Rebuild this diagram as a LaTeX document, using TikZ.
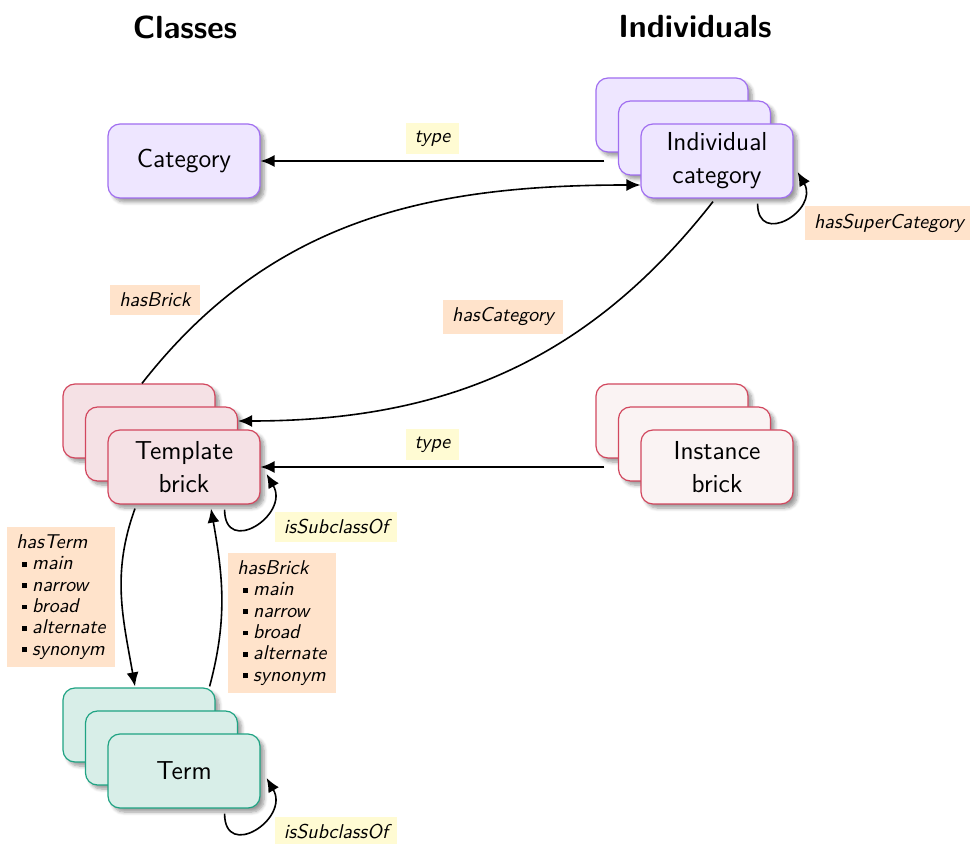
\documentclass[tikz,border=0pt]{standalone}
\usepackage{fontspec}
\renewcommand{\familydefault}{\sfdefault}
\usetikzlibrary{arrows.meta, calc, shadows.blur}

\definecolor{catfill}{HTML}{EEE6FF}
\definecolor{catdraw}{HTML}{A06EF0}
\definecolor{tmplfill}{HTML}{F5E1E5}
\definecolor{brickdraw}{HTML}{D2475E}
\definecolor{instfill}{HTML}{FAF3F3}
\definecolor{termfill}{HTML}{D8EEE8}
\definecolor{termdraw}{HTML}{1FA383}
\definecolor{typefill}{HTML}{FFFBD3}
\definecolor{relfill}{HTML}{FFE3CB}

\newcommand{\bulletsq}{\hspace*{3pt}\rule[.35ex]{2.4pt}{2.4pt}\hspace{2.5pt}}

\begin{document}
\begin{tikzpicture}[x=0.5pt, y=-0.5pt,
    clsbox/.style={draw, semithick, rounded corners=6pt, minimum width=76pt, minimum height=37pt,
        align=center, font=\fontsize{13}{16.5}\selectfont,
        blur shadow={shadow blur steps=6, shadow xshift=2pt, shadow yshift=-2pt}},
    catbox/.style={clsbox, fill=catfill, draw=catdraw},
    tmplbox/.style={clsbox, fill=tmplfill, draw=brickdraw},
    instbox/.style={clsbox, fill=instfill, draw=brickdraw},
    termbox/.style={clsbox, fill=termfill, draw=termdraw},
    lbl/.style={font=\fontsize{10}{10.7}\selectfont\itshape, inner xsep=4.5pt, inner ysep=4pt},
    typelbl/.style={lbl, fill=typefill},
    rellbl/.style={lbl, fill=relfill},
    arr/.style={thick, -{Latex[length=7pt,width=6pt]}},
    headline/.style={font=\fontsize{16}{19}\selectfont\bfseries}]

    \useasboundingbox (0,0) rectangle (970,844);

    \node[headline] (classes) at (185,27) {Classes};
    \node[headline] (indiv) at (695,27) {Individuals};

    % stacked copies behind the front boxes
    \foreach \nm/\st/\px/\py in {ind/catbox/717/161, tmpl/tmplbox/184/467, inst/instbox/717/467, term/termbox/184/771} {
        \node[\st] (\nm3) at (\px-45,\py-46) {};
        \node[\st] (\nm2) at (\px-22.5,\py-23) {};
    }

    \node[catbox] (cat) at (184,161) {Category};
    \node[catbox] (ind) at (717,161) {Individual\\category};
    \node[tmplbox] (tmpl) at (184,467) {Template\\brick};
    \node[instbox] (inst) at (717,467) {Instance\\brick};
    \node[termbox] (term) at (184,771) {Term};

    \draw[arr] ($(ind3.west |- ind.west)+(9,0)$) -- node[typelbl, above=3pt] (type1) {type} (cat);
    \draw[arr] ($(inst3.west |- inst.west)+(9,0)$) -- node[typelbl, above=3pt] (type2) {type} (tmpl);

    \draw[arr] ($(tmpl3.north)+(3,0)$) to[out=52, in=180] ($(ind.west)+(0,24)$);
    \node[rellbl] (hbrick) at (155,300) {hasBrick};

    \draw[arr] ($(ind.south)+(-4,3)$) to[out=-128, in=0] (tmpl2.east |- tmpl3.east);
    \node[rellbl] (hcat) at (503,317) {hasCategory};

    \draw[arr] ($(ind.south east)+(-36,5)$) to[out=-90, in=-60, looseness=2.2] ($(ind.east)+(4,11)$);
    \node[rellbl] (hsup) at (889,223) {hasSuperCategory};

    \draw[arr] ($(tmpl.south east)+(-36,5)$) to[out=-90, in=-60, looseness=2.2] ($(tmpl.east)+(6,7)$);
    \node[typelbl] (sub1) at (336,527) {isSubclassOf};

    \draw[arr] ($(term.south east)+(-36,5)$) to[out=-90, in=-60, looseness=2.2] ($(term.east)+(6,7)$);
    \node[typelbl] (sub2) at (336,832) {isSubclassOf};

    \draw[arr] ($(tmpl.south)+(-49,4)$) to[out=-110, in=100] ($(term3.north)+(-4,-1)$);
    \node[rellbl, align=left] (hterm) at (61,597) {hasTerm\\ \bulletsq main\\ \bulletsq narrow\\ \bulletsq broad\\ \bulletsq alternate\\ \bulletsq synonym};

    \draw[arr] ($(term3.north east)+(-6,-1)$) to[out=75, in=-80] ($(tmpl.south)+(27,4)$);
    \node[rellbl, align=left] (hbrick2) at (282,623) {hasBrick\\ \bulletsq main\\ \bulletsq narrow\\ \bulletsq broad\\ \bulletsq alternate\\ \bulletsq synonym};

\end{tikzpicture}
\end{document}
